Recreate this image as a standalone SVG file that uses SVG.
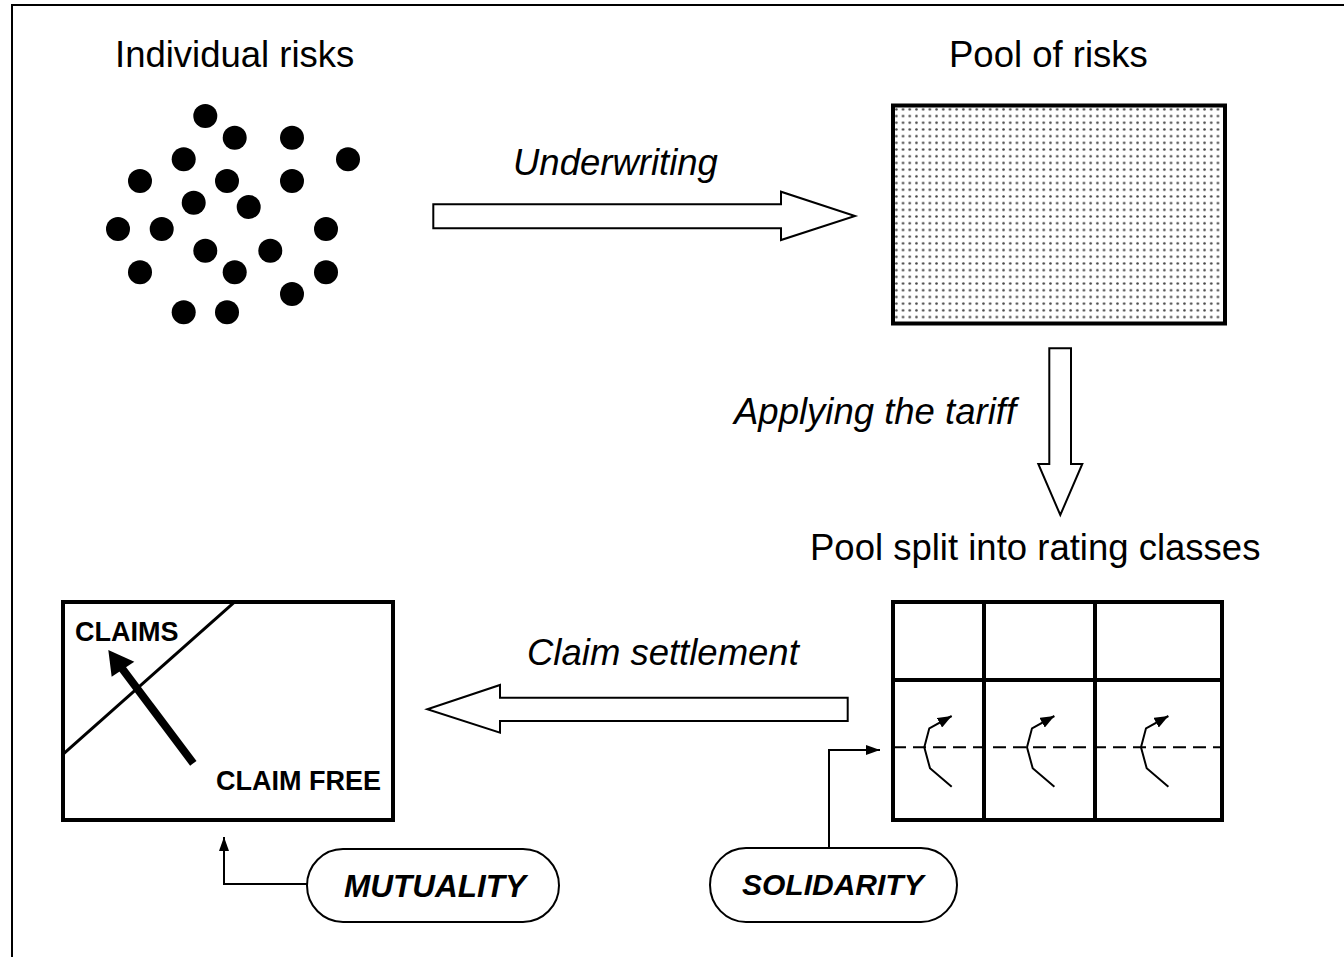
<svg xmlns="http://www.w3.org/2000/svg" width="1344" height="957" viewBox="0 0 1344 957">
<style>
.t{font-family:"Liberation Sans",Arial,sans-serif;font-size:36.5px;fill:#000}
.i{font-style:italic}
.b{font-weight:bold}
.dot{fill:#000}
.box{fill:#fff;stroke:#000;stroke-width:4}
.fat{fill:#fff;stroke:#000;stroke-width:2;stroke-linejoin:miter}
.ln{fill:none;stroke:#000;stroke-width:2}
.pill{fill:#fff;stroke:#000;stroke-width:2}
</style>
<defs>
<pattern id="stip" x="893" y="106" width="6.7" height="6.7" patternUnits="userSpaceOnUse">
<rect width="6.7" height="6.7" fill="#fff"/>
<circle cx="3.35" cy="3.35" r="1.3" fill="#444"/>
</pattern>
<marker id="ah" viewBox="0 0 14 11" refX="14" refY="5.5" markerWidth="14" markerHeight="11" markerUnits="userSpaceOnUse" orient="auto">
<path d="M0,0 L14,5.5 L0,11 Z" fill="#000"/>
</marker>
<marker id="ah2" viewBox="0 0 14 10" refX="14" refY="5" markerWidth="14" markerHeight="10" markerUnits="userSpaceOnUse" orient="auto">
<path d="M0,0 L14,5 L0,10 Z" fill="#000"/>
</marker>
<path id="curl" d="M951.7,786.7 L930,768.3 L924.3,747.3 L929.3,728.3 L951.7,716" fill="none" stroke="#000" stroke-width="2" marker-end="url(#ah)"/>
</defs>
<rect x="0" y="0" width="1344" height="957" fill="#fff"/>
<rect x="12" y="5" width="1340" height="960" fill="none" stroke="#000" stroke-width="2"/>

<g id="individual-risks">
<text class="t" x="115" y="67">Individual risks</text>
<circle class="dot" cx="205.3" cy="116" r="12"/>
<circle class="dot" cx="234.7" cy="137.7" r="12"/>
<circle class="dot" cx="292" cy="137.7" r="12"/>
<circle class="dot" cx="348" cy="159.3" r="12"/>
<circle class="dot" cx="183.7" cy="159.3" r="12"/>
<circle class="dot" cx="140" cy="181" r="12"/>
<circle class="dot" cx="227" cy="181" r="12"/>
<circle class="dot" cx="292" cy="181" r="12"/>
<circle class="dot" cx="193.7" cy="202.7" r="12"/>
<circle class="dot" cx="248.7" cy="207" r="12"/>
<circle class="dot" cx="118" cy="229" r="12"/>
<circle class="dot" cx="161.7" cy="229" r="12"/>
<circle class="dot" cx="326" cy="229" r="12"/>
<circle class="dot" cx="205.3" cy="250.7" r="12"/>
<circle class="dot" cx="270.3" cy="250.7" r="12"/>
<circle class="dot" cx="140" cy="272.3" r="12"/>
<circle class="dot" cx="234.7" cy="272.3" r="12"/>
<circle class="dot" cx="326" cy="272.3" r="12"/>
<circle class="dot" cx="292" cy="294" r="12"/>
<circle class="dot" cx="183.7" cy="312.3" r="12"/>
<circle class="dot" cx="227" cy="312.3" r="12"/>
</g>

<g id="pool-of-risks">
<text class="t" x="949" y="67">Pool of risks</text>
<rect x="893" y="105.5" width="332" height="218" fill="url(#stip)" stroke="#000" stroke-width="4"/>
</g>

<g id="rating-classes">
<text class="t" x="810" y="560">Pool split into rating classes</text>
<rect class="box" x="893" y="602" width="329" height="218"/>
<line x1="984" y1="602" x2="984" y2="820" stroke="#000" stroke-width="4"/>
<line x1="1095" y1="602" x2="1095" y2="820" stroke="#000" stroke-width="4"/>
<line x1="893" y1="680" x2="1222" y2="680" stroke="#000" stroke-width="4"/>
<line x1="893" y1="747.3" x2="1222" y2="747.3" stroke="#000" stroke-width="2" stroke-dasharray="13,7"/>
<use href="#curl"/>
<use href="#curl" x="102.7"/>
<use href="#curl" x="216.7"/>
</g>

<g id="claims-box">
<rect class="box" x="63" y="602" width="330" height="218"/>
<line x1="235" y1="601.7" x2="64" y2="753.3" stroke="#000" stroke-width="3"/>
<line x1="193.3" y1="763.3" x2="119" y2="664.3" stroke="#000" stroke-width="8"/>
<polygon points="108.3,650 134.3,661.7 111.7,676.7" fill="#000"/>
<text class="t b" x="75" y="641" style="font-size:27px">CLAIMS</text>
<text class="t b" x="216" y="790" style="font-size:27px">CLAIM FREE</text>
</g>

<g id="mutuality">
<rect class="pill" x="307" y="849" width="252" height="73" rx="36" ry="36.5"/>
<text class="t b i" x="344" y="897" style="font-size:31.5px">MUTUALITY</text>
</g>

<g id="solidarity">
<rect class="pill" x="710" y="848" width="247" height="74" rx="36" ry="37"/>
<text class="t b i" x="742" y="895" style="font-size:30px">SOLIDARITY</text>
</g>

<g id="connectors">
<polygon class="fat" points="433.3,204.3 781,204.3 781,191.7 855,216 781,240 781,228.3 433.3,228.3"/>
<text class="t i" x="513" y="175">Underwriting</text>
<polygon class="fat" points="1049.3,348.3 1071,348.3 1071,464 1082.3,464 1060.3,515 1038.3,464 1049.3,464"/>
<text class="t i" x="734" y="424">Applying the tariff</text>
<polygon class="fat" points="847.7,697.7 500,697.7 500,685 427.3,709.3 500,732.7 500,721 847.7,721"/>
<text class="t i" x="527" y="665">Claim settlement</text>
<polyline class="ln" points="307,884 224,884 224,837" marker-end="url(#ah2)"/>
<polyline class="ln" points="829,848 829,750 880,750" marker-end="url(#ah2)"/>
</g>
</svg>
